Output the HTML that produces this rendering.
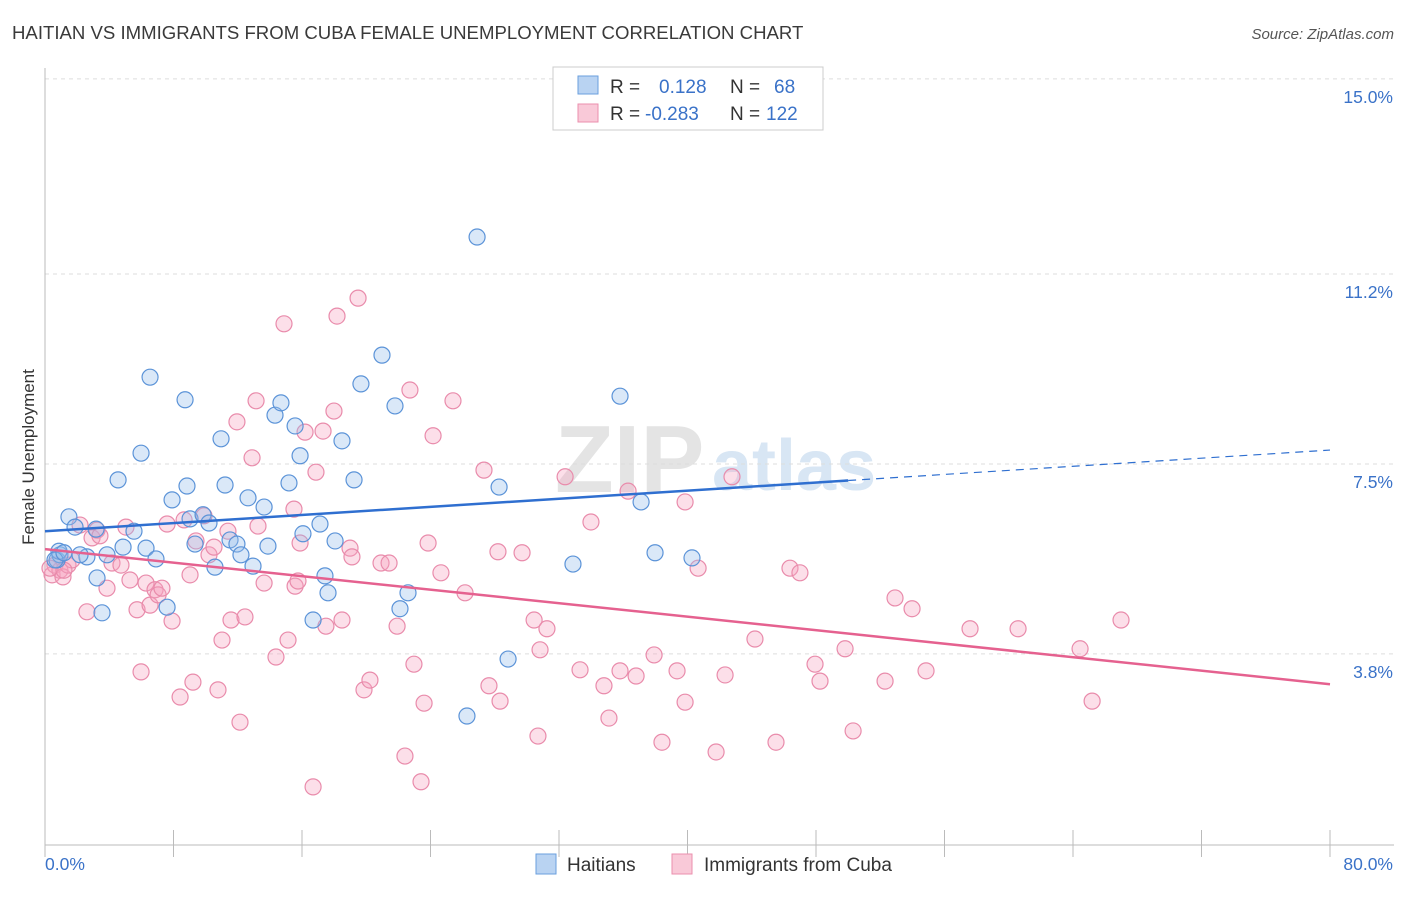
<!DOCTYPE html>
<html><head><meta charset="utf-8"><style>
body{margin:0;background:#fff;font-family:"Liberation Sans",sans-serif}
svg text{font-family:"Liberation Sans",sans-serif}
</style></head><body>
<svg id="chart" width="1406" height="892" xmlns="http://www.w3.org/2000/svg">
<text x="12" y="39" font-size="18.6" fill="#3a3a3a">HAITIAN VS IMMIGRANTS FROM CUBA FEMALE UNEMPLOYMENT CORRELATION CHART</text>
<text x="1394" y="39" font-size="15" fill="#555" text-anchor="end" font-style="italic">Source: ZipAtlas.com</text>
<text x="555" y="492" font-size="96" fill="#e4e4e4" font-family="Liberation Serif" font-weight="bold">ZIP</text>
<text x="712" y="490" font-size="72" fill="#d8e6f4" font-weight="bold">atlas</text>
<g id="grid"></g>
<g id="axes"></g>
<g id="pts"></g>
<g id="trends"></g>
<text transform="translate(34,457) rotate(-90)" font-size="17" fill="#333" text-anchor="middle">Female Unemployment</text>
<g>
<rect x="553" y="67" width="270" height="63" fill="#fff" stroke="#ccc"/>
<rect x="578" y="76" width="20" height="18" fill="#b9d3f2" stroke="#6a9fde"/>
<rect x="578" y="104" width="20" height="18" fill="#f9c9d8" stroke="#eb8fae"/>
<text x="610" y="93" font-size="19" fill="#333">R =</text>
<text x="659" y="93" font-size="19" fill="#3a72c8">0.128</text>
<text x="730" y="93" font-size="19" fill="#333">N =</text>
<text x="774" y="93" font-size="19" fill="#3a72c8">68</text>
<text x="610" y="120" font-size="19" fill="#333">R =</text>
<text x="645" y="120" font-size="19" fill="#3a72c8">-0.283</text>
<text x="730" y="120" font-size="19" fill="#333">N =</text>
<text x="766" y="120" font-size="19" fill="#3a72c8">122</text>
</g>
<g>
<rect x="536" y="854" width="20" height="20" fill="#b9d3f2" stroke="#6a9fde"/>
<text x="567" y="871" font-size="19" fill="#333">Haitians</text>
<rect x="672" y="854" width="20" height="20" fill="#f9c9d8" stroke="#eb8fae"/>
<text x="704" y="871" font-size="19" fill="#333">Immigrants from Cuba</text>
</g>
</svg>
<script>
const yTicks=[15.0,11.2,7.5,3.8];
const yTickLabels=["15.0%","11.2%","7.5%","3.8%"];
const xTickVals=[0,8,16,24,32,40,48,56,64,72,80];
const haitiansX=[1.49,1.87,0.75,0.93,2.61,3.24,3.55,3.86,4.55,4.86,5.54,5.98,6.29,6.54,6.91,7.60,7.91,8.72,8.84,9.03,9.34,9.84,10.21,10.58,10.96,11.21,11.52,11.95,12.20,12.64,12.95,13.64,13.88,14.32,14.69,15.19,15.57,15.88,16.06,16.69,17.12,17.43,17.62,18.06,18.49,19.24,19.67,20.98,21.79,22.10,22.60,26.90,26.27,28.27,28.83,32.87,35.80,37.11,37.98,40.28,0.87,3.18,2.18,0.62,1.18];
const haitiansY=[6.47,6.27,5.63,5.73,5.69,5.28,4.60,5.73,7.19,5.88,6.19,7.71,5.86,9.19,5.65,4.71,6.80,8.75,7.07,6.43,5.94,6.51,6.35,5.49,7.99,7.09,6.02,5.94,5.73,6.84,5.51,6.66,5.90,8.45,8.69,7.13,8.24,7.66,6.14,4.46,6.33,5.32,4.99,6.00,7.95,7.19,9.06,9.62,8.63,4.68,4.99,11.92,2.59,7.05,3.70,5.55,8.82,6.76,5.77,5.67,5.80,6.23,5.73,5.63,5.77];
const cubaX=[0.44,0.62,0.93,1.12,1.43,1.68,2.18,2.61,2.93,3.24,3.42,3.86,4.17,4.73,5.04,5.29,5.73,5.98,6.29,6.54,6.85,7.04,7.28,7.60,7.91,8.41,8.66,9.03,9.21,9.40,9.90,10.21,10.52,10.77,11.02,11.39,11.58,11.95,12.14,12.45,12.89,13.14,13.26,13.64,14.38,14.88,15.13,15.50,15.57,15.75,15.88,16.19,16.69,16.87,17.31,17.49,17.99,18.18,18.49,18.99,19.11,19.49,19.86,20.23,20.92,21.42,21.92,22.41,22.72,22.97,23.41,23.60,23.85,24.16,24.65,25.40,26.15,27.33,27.64,28.20,28.33,29.70,30.45,30.69,30.82,31.25,32.38,33.31,33.99,34.80,35.11,35.80,36.30,36.80,37.92,38.41,39.35,39.85,39.85,40.66,41.78,42.34,42.77,44.20,45.51,46.38,47.00,47.94,48.25,49.81,50.31,52.30,52.92,53.98,54.85,57.59,60.58,64.44,65.19,66.99,0.31,1.18];
const cubaY=[5.34,5.53,5.43,5.30,5.53,5.63,6.31,4.62,6.06,6.21,6.10,5.08,5.57,5.53,6.27,5.24,4.66,3.45,5.18,4.75,5.05,4.95,5.08,6.33,4.44,2.96,6.41,5.34,3.25,6.00,6.49,5.73,5.88,3.10,4.07,6.19,4.46,8.32,2.47,4.52,7.62,8.73,6.29,5.18,3.74,10.23,4.07,6.62,5.12,5.22,5.96,8.12,1.21,7.34,8.14,4.34,8.53,10.38,4.46,5.86,5.69,10.73,3.10,3.29,5.57,5.57,4.34,1.81,8.94,3.60,1.31,2.84,5.96,8.05,5.38,8.73,4.99,7.38,3.18,5.79,2.88,5.77,4.46,2.20,3.88,4.29,7.25,3.49,6.37,3.18,2.55,3.47,6.97,3.37,3.78,2.08,3.47,2.86,6.76,5.47,1.89,3.39,7.25,4.09,2.08,5.47,5.38,3.60,3.27,3.90,2.30,3.27,4.89,4.68,3.47,4.29,4.29,3.90,2.88,4.46,5.47,5.43];
const haitiansTrend=[6.19,7.77];
const haitiansSolidEnd=[50];
const cubaTrend=[5.84,3.21];
const cubaSolidEnd=[80];

const X0=45,X1=1330,Y0=849,PXPER=51.34;
const sx=v=>X0+(v/80)*(X1-X0);
const sy=v=>Y0-v*PXPER;
const NS="http://www.w3.org/2000/svg";
function mk(tag,attrs,parent){const e=document.createElementNS(NS,tag);for(const k in attrs)e.setAttribute(k,attrs[k]);parent.appendChild(e);return e;}
const grid=document.getElementById('grid'),axes=document.getElementById('axes'),pts=document.getElementById('pts'),tr=document.getElementById('trends');
yTicks.forEach((t,i)=>{
 const l=mk('line',{x1:45,x2:1394,y1:sy(t),y2:sy(t),stroke:'#ddd','stroke-dasharray':'4,4'},grid);
 
 
 const tx=mk('text',{x:1393,y:sy(t)+24,'font-size':17.5,fill:'#3a72c8','text-anchor':'end'},grid);
 tx.textContent=yTickLabels[i];
 
 
});
let a=mk('line',{x1:45,x2:45,y1:68,y2:845,stroke:'#bbb'},axes);


a=mk('line',{x1:45,x2:1394,y1:845,y2:845,stroke:'#bbb'},axes);


xTickVals.forEach(v=>{
 const t=mk('line',{x1:sx(v),x2:sx(v),y1:830,y2:857,stroke:'#bbb'},axes);
 
 
});
let lt=mk('text',{x:45,y:870,'font-size':17.5,fill:'#3a72c8'},axes);lt.textContent='0.0%';


lt=mk('text',{x:1393,y:870,'font-size':17.5,fill:'#3a72c8','text-anchor':'end'},axes);lt.textContent='80.0%';


function drawPts(xs,ys,fill,stroke,name){
 xs.forEach((x,i)=>{
  const c=mk('circle',{cx:sx(x),cy:sy(ys[i]),r:8,fill:fill,'fill-opacity':0.35,stroke:stroke,'stroke-width':1.2},pts);
  
  
 });
}
drawPts(cubaX,cubaY,'#f5a3bf','#e98bab','cuba-point');
drawPts(haitiansX,haitiansY,'#95bdeb','#5b93d8','haitian-point');
function trend(t,end,color,name){
 const f=x=>t[0]+(t[1]-t[0])*x/80;
 const l=mk('line',{x1:sx(0),y1:sy(f(0)),x2:sx(end[0]),y2:sy(f(end[0])),stroke:color,'stroke-width':2.5},tr);
 
 
 if(end[0]<80){
  const d=mk('line',{x1:sx(end[0]),y1:sy(f(end[0])),x2:sx(80),y2:sy(f(80)),stroke:color,'stroke-width':1.2,'stroke-dasharray':'8,6'},tr);
  
  
 }
}
trend(haitiansTrend,haitiansSolidEnd,'#2f6fd0','haitians-trend-line');
trend(cubaTrend,cubaSolidEnd,'#e5618f','cuba-trend-line');
</script>
</body></html>
